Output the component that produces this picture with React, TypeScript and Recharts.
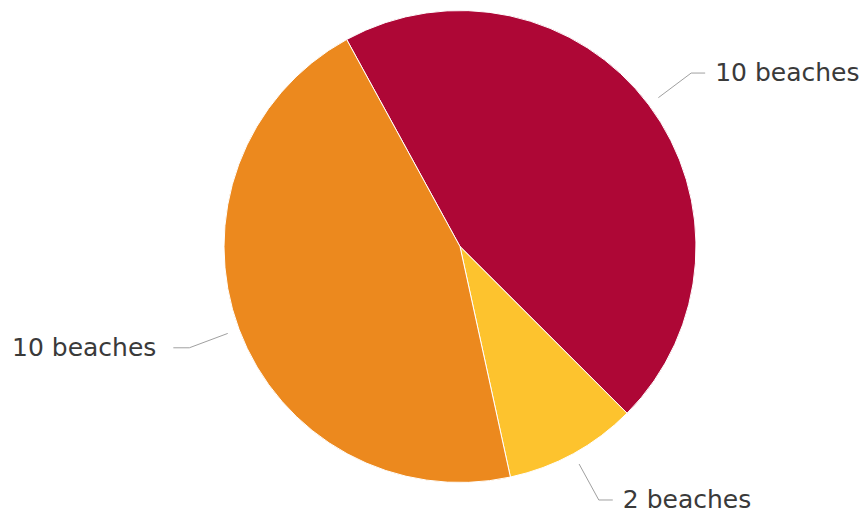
import React from 'react';
import { PieChart, Pie, Cell } from 'recharts';

const categories = ['Red', 'Yellow', 'Orange'];
const beachCounts = [10, 2, 10];
const sliceColors = ['#ae0736', '#fdc32e', '#ec891e'];

const data = categories.map((name, i) => ({ name, value: beachCounts[i], fill: sliceColors[i] }));

const RAD = Math.PI / 180;

function polar(cx: number, cy: number, r: number, angle: number) {
  return { x: cx + r * Math.cos(-angle * RAD), y: cy + r * Math.sin(-angle * RAD) };
}

// connector like the old highcharts labels: short diagonal, then a flat bit, then text
function renderLabel(props: any) {
  const { cx, cy, midAngle, outerRadius, value } = props;
  const p1 = polar(cx, cy, outerRadius + 12, midAngle);
  const p2 = polar(cx, cy, outerRadius + 53, midAngle);
  const right = p2.x >= cx;
  const p3x = p2.x + (right ? 14 : -16);
  const tx = p3x + (right ? 10 : -17);
  return (
    <g>
      <path
        d={`M${p1.x},${p1.y}L${p2.x},${p2.y}L${p3x},${p2.y}`}
        stroke="#a0a0a0"
        strokeWidth={1}
        fill="none"
      />
      <text
        x={tx}
        y={p2.y + 8}
        textAnchor={right ? 'start' : 'end'}
        fill="#3a3a3a"
        fontSize={25}
        fontFamily="'DejaVu Sans', sans-serif"
      >
        {`${value} beaches`}
      </text>
    </g>
  );
}

export default function App() {
  return (
    <div style={{ position: 'absolute', left: 0, top: 0, width: 865, height: 514, background: '#fff' }}>
      <PieChart width={865} height={514} margin={{ top: 0, right: 0, bottom: 0, left: 0 }}>
        <Pie
          data={data}
          dataKey="value"
          cx={460}
          cy={246.5}
          outerRadius={236}
          startAngle={118.7}
          endAngle={118.7 - 360}
          stroke="#ffffff"
          strokeWidth={1}
          label={renderLabel}
          labelLine={false}
          isAnimationActive={false}
        >
          {data.map((d) => (
            <Cell key={d.name} fill={d.fill} />
          ))}
        </Pie>
      </PieChart>
    </div>
  );
}
